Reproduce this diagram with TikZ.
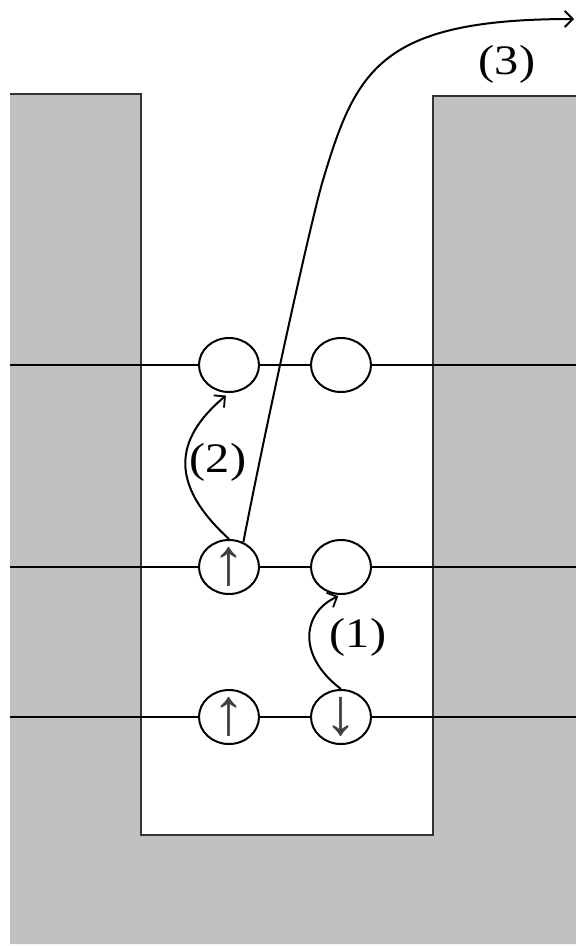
\documentclass[tikz,border=0pt]{standalone}
\usepackage{fontspec}
\setmainfont{Liberation Serif}
\usetikzlibrary{shapes.geometric,arrows.meta}
\definecolor{wallgray}{RGB}{192,192,192}
\begin{document}
\begin{tikzpicture}[x=1pt,y=-1pt,
  site/.style={ellipse,draw,line width=2pt,fill=white,minimum width=60pt,minimum height=54pt,inner sep=0pt},
  spinup/.style={label={[text=black!75,font=\fontsize{66}{66}\selectfont,inner sep=0pt]center:↑}},
  spindown/.style={label={[text=black!75,font=\fontsize{66}{66}\selectfont,inner sep=0pt]center:↓}},
  lbl/.style={font=\fontsize{42}{42}\selectfont,xscale=1.15,inner sep=0pt},
  lev/.style={line width=2pt},
  wall/.style={line width=2.5pt,black!80},
  hop/.style={line width=2pt,-{Straight Barb[length=8pt,width=16pt,line width=1.8pt]}}]
\useasboundingbox (0,0) rectangle (576,946);
\fill[wallgray] (10,94) -- (141,94) -- (141,835) -- (433,835) -- (433,96) -- (576,96) -- (576,944) -- (10,944) -- cycle;
\draw[wall] (10,94) -- (141,94) -- (141,835) -- (433,835) -- (433,96) -- (576,96);
% sites
\node[site,spinup] (c11) at (229,717) {};
\node[site,spindown] (c12) at (341,717) {};
\node[site,spinup] (c21) at (229,567) {};
\node[site] (c22) at (341,567) {};
\node[site] (c31) at (229,365) {};
\node[site] (c32) at (341,365) {};
\coordinate (l1) at (10,717);
\coordinate (r1) at (576,717);
\coordinate (l2) at (10,567);
\coordinate (r2) at (576,567);
\coordinate (l3) at (10,365);
\coordinate (r3) at (576,365);
\draw[lev] (l1) -- (c11) -- (c12) -- (r1);
\draw[lev] (l2) -- (c21) -- (c22) -- (r2);
\draw[lev] (l3) -- (c31) -- (c32) -- (r3);
% hops
\draw[hop,shorten >=3pt] (c12.north) .. controls (296,655) and (303,612) .. (c22.south);
\draw[hop,shorten >=4pt] (c21.north) .. controls (170,485) and (173,440) .. (c31.south);
\coordinate (bend) at (323,180);
\coordinate (out) at (574,19);
\draw[hop] (c21.60) .. controls (265,430) and (311,220) .. (bend) .. controls (356,70) and (380,19) .. (out);
% labels
\node[lbl] (t1) at (358,637) {(1)};
\node[lbl] (t2) at (218,462) {(2)};
\node[lbl] (t3) at (507,64) {(3)};
\end{tikzpicture}
\end{document}
